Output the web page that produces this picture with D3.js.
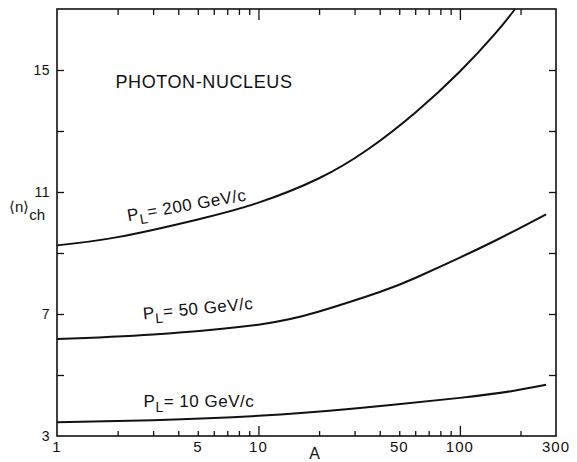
<!DOCTYPE html>
<html>
<head>
<meta charset="utf-8">
<script src="https://cdn.jsdelivr.net/npm/d3@7"></script>
<style>
  body { margin: 0; background: #fff; }
  svg text { font-family: "Liberation Sans", Arial, sans-serif; fill: #111; }
</style>
</head>
<body>
<div id="chart"></div>
<script>
// Mean charged multiplicity vs nuclear mass number A
const aValues200 = [1, 2, 5, 10, 20, 35, 60, 100, 150, 188];
const nch200 = [9.25, 9.52, 10.1, 10.65, 11.45, 12.4, 13.6, 14.95, 16.2, 17.0];

const aValues50 = [1, 3, 10, 20, 40, 60, 100, 160, 268];
const nch50 = [6.18, 6.33, 6.65, 7.08, 7.72, 8.18, 8.85, 9.5, 10.27];

const aValues10 = [1, 3, 10, 30, 100, 180, 268];
const nch10 = [3.45, 3.52, 3.66, 3.9, 4.25, 4.47, 4.68];

const xMinorTicks = [2, 3, 4, 5, 6, 7, 8, 9, 20, 30, 40, 50, 60, 70, 80, 90, 200];
const xMajorTicks = [10, 100];
const xTickLabels = [1, 5, 10, 50, 100, 300];
const yTicks = [5, 7, 9, 11, 13, 15];
const yTickLabels = [3, 7, 11, 15];

// curve labels: momentum, anchor A, anchor <n>, rotation
const labelMomenta = ["200", "50", "10"];
const labelA = [2.26, 2.69, 2.69];
const labelN = [10.04, 6.82, 3.96];
const labelAngle = [-10, -5.5, 0];

const width = 577, height = 462;
const margin = { top: 9, right: 21, bottom: 26, left: 57 };

const svg = d3.select("#chart").append("svg")
    .attr("width", width)
    .attr("height", height);

const x = d3.scaleLog()
    .domain([1, 300])
    .range([margin.left, width - margin.right]);

const y = d3.scaleLinear()
    .domain([3, 17])
    .range([height - margin.bottom, margin.top]);

const ink = "#111";

// frame
svg.append("rect")
    .attr("x", x(1))
    .attr("y", y(17))
    .attr("width", x(300) - x(1))
    .attr("height", y(3) - y(17))
    .attr("fill", "none")
    .attr("stroke", ink)
    .attr("stroke-width", 1.6);

function styleAxis(g) {
    g.select(".domain").remove();
    g.selectAll(".tick line").attr("stroke", ink).attr("stroke-width", 1.3);
    g.selectAll(".tick text").remove();
}

// inward ticks on all four sides
svg.append("g")
    .attr("transform", `translate(0,${y(3)})`)
    .call(d3.axisBottom(x).tickValues(xMinorTicks).tickSize(-5))
    .call(styleAxis);
svg.append("g")
    .attr("transform", `translate(0,${y(3)})`)
    .call(d3.axisBottom(x).tickValues(xMajorTicks).tickSize(-10))
    .call(styleAxis);
svg.append("g")
    .attr("transform", `translate(0,${y(17)})`)
    .call(d3.axisTop(x).tickValues(xMinorTicks).tickSize(-6))
    .call(styleAxis);
svg.append("g")
    .attr("transform", `translate(0,${y(17)})`)
    .call(d3.axisTop(x).tickValues(xMajorTicks).tickSize(-11))
    .call(styleAxis);
svg.append("g")
    .attr("transform", `translate(${x(1)},0)`)
    .call(d3.axisLeft(y).tickValues(yTicks).tickSize(-7))
    .call(styleAxis);
svg.append("g")
    .attr("transform", `translate(${x(300)},0)`)
    .call(d3.axisRight(y).tickValues(yTicks).tickSize(-7))
    .call(styleAxis);

// tick labels
svg.append("g")
    .selectAll("text")
    .data(xTickLabels)
    .join("text")
    .attr("x", d => x(d))
    .attr("y", y(3) + 16)
    .attr("text-anchor", "middle")
    .attr("font-size", 15)
    .attr("letter-spacing", 1)
    .text(d => d);

svg.append("g")
    .selectAll("text")
    .data(yTickLabels)
    .join("text")
    .attr("x", x(1) - 7)
    .attr("y", d => y(d) + 5)
    .attr("text-anchor", "end")
    .attr("font-size", 14)
    .attr("letter-spacing", 0.5)
    .text(d => d);

// axis titles
svg.append("text")
    .attr("x", x(19))
    .attr("y", height - 3)
    .attr("text-anchor", "middle")
    .attr("font-size", 16)
    .text("A");

const yTitle = svg.append("text")
    .attr("x", 9)
    .attr("y", 212)
    .attr("font-size", 15);
yTitle.append("tspan").text("\u27E8n\u27E9");
yTitle.append("tspan").attr("dy", 8).text("ch");

// title
svg.append("text")
    .attr("x", x(1.95))
    .attr("y", y(14.41))
    .attr("font-size", 18)
    .attr("letter-spacing", 0.6)
    .text("PHOTON-NUCLEUS");

// curves
const series = [
    { a: aValues200, n: nch200 },
    { a: aValues50, n: nch50 },
    { a: aValues10, n: nch10 }
];

const line = d3.line()
    .x(d => x(d[0]))
    .y(d => y(d[1]))
    .curve(d3.curveNatural);

svg.append("g")
    .selectAll("path")
    .data(series)
    .join("path")
    .attr("d", s => line(s.a.map((a, i) => [a, s.n[i]])))
    .attr("fill", "none")
    .attr("stroke", ink)
    .attr("stroke-width", 2);

// curve labels
labelMomenta.forEach((p, i) => {
    const t = svg.append("text")
        .attr("transform", `translate(${x(labelA[i])},${y(labelN[i])}) rotate(${labelAngle[i]})`)
        .attr("font-size", 17)
        .attr("letter-spacing", 0.5);
    t.append("tspan").text("P");
    t.append("tspan").attr("dy", 5).attr("font-size", 14).text("L");
    t.append("tspan").attr("dy", -5).text(`= ${p} GeV/c`);
});
</script>
</body>
</html>
